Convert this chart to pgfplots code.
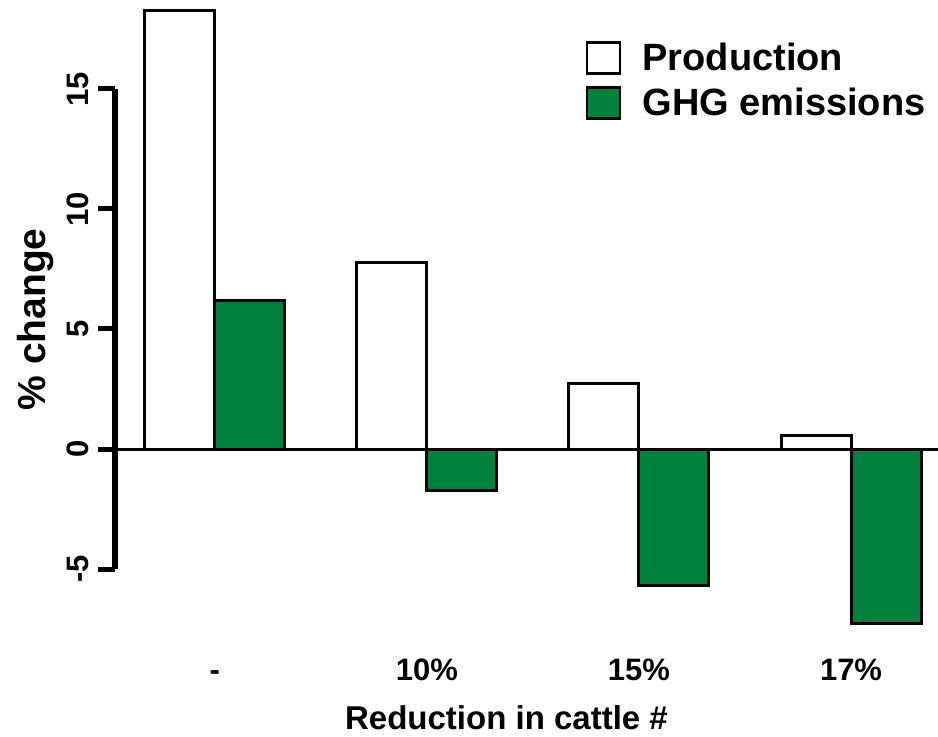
\documentclass[border=0pt]{standalone}
\usepackage{fontspec}
\setmainfont{Liberation Sans}
\usepackage{pgfplots}
\pgfplotsset{compat=1.18}
\definecolor{ghggreen}{RGB}{0,130,60}

\begin{document}
\begin{tikzpicture}
\begin{axis}[
  scale only axis,
  width=823pt, height=480pt,
  xmin=-0.47, xmax=3.41,
  ymin=-5, ymax=15,
  clip=false,
  axis y line*=left,
  axis x line*=bottom,
  x axis line style={draw=none},
  y axis line style={line width=5.5pt, line cap=butt},
  tick align=outside,
  major tick length=17pt,
  ytick={-5,0,5,10,15},
  yticklabels={-5,0,5,10,15},
  ytick style={line width=5pt, black},
  yticklabel shift=9pt,
  yticklabel style={rotate=90, anchor=south, inner sep=0pt,
    font=\fontsize{31}{34}\selectfont\bfseries},
  xtick={0,1,2,3},
  xticklabels={-,10\%,15\%,17\%},
  xtick style={draw=none},
  xticklabel shift=68pt,
  xticklabel style={text height=22.5pt, text depth=0pt,
    font=\fontsize{31}{34}\selectfont\bfseries},
  extra y ticks={0},
  extra y tick labels={},
  extra y tick style={grid=major, major grid style={black, line width=3pt},
    tick style={draw=none}},
  xlabel={Reduction in cattle \#},
  xlabel style={at={(axis description cs:0.4757,-0.3354)}, anchor=base,
    font=\fontsize{33}{36}\selectfont\bfseries},
  ylabel={\% change},
  ylabel style={at={(axis description cs:-0.096,0.52)}, anchor=center,
    font=\fontsize{39}{42}\selectfont\bfseries},
  ybar=0pt, bar width=70pt,
  legend image code/.code={
    \draw[#1, line width=2.5pt] (0pt,-15.5pt) rectangle (33pt,15.5pt);},
  legend style={draw=none, fill=none, at={(axis description cs:0.572,1.10)},
    anchor=north west, inner sep=0pt, row sep=11.5pt,
    nodes={inner sep=0pt},
    font=\fontsize{38}{40}\selectfont\bfseries,
    /tikz/every odd column/.append style={column sep=21pt}},
  legend cell align=left,
]
\addplot[fill=white, draw=black, line width=3pt, bar shift=-35pt]
  coordinates {(0,18.25) (1,7.79) (2,2.74) (3,0.58)};
\addplot[fill=ghggreen, draw=black, line width=3pt, bar shift=35pt]
  coordinates {(0,6.2) (1,-1.71) (2,-5.67) (3,-7.26)};
\legend{Production, GHG emissions}
\end{axis}
\pgfresetboundingbox
\path (current axis.south west) ++(-115pt,-168pt) rectangle ++(938pt,737pt);
\end{tikzpicture}
\end{document}
